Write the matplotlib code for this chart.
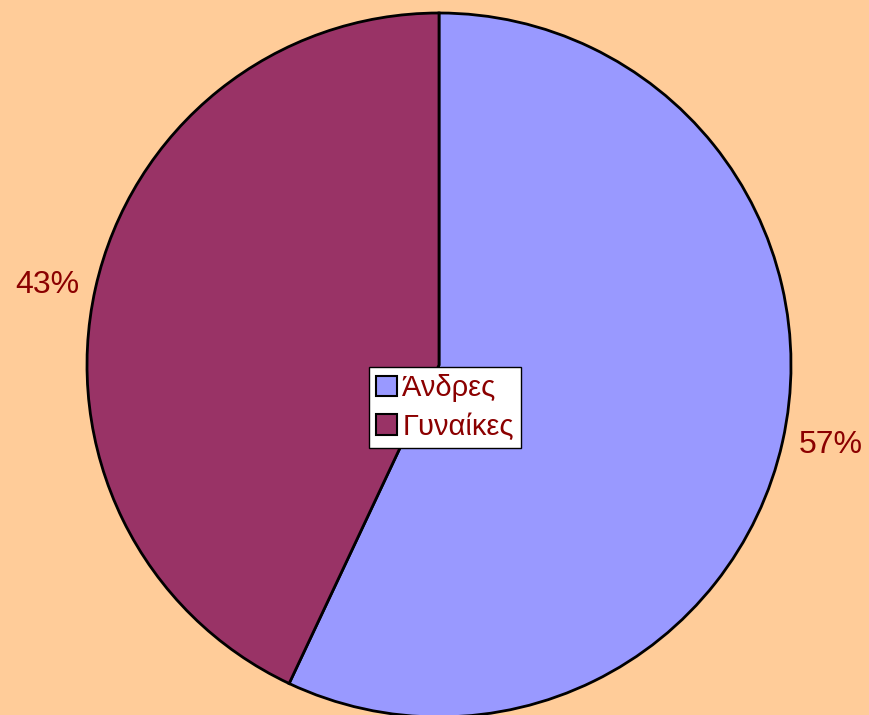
# Pie chart: share of men / women
import numpy as np
import matplotlib
matplotlib.use("Agg")
import matplotlib.pyplot as plt

plt.rcParams.update({
    "font.family": ["Liberation Sans", "DejaVu Sans"],
})

# Data
categories = ["Άνδρες", "Γυναίκες"]
shares = [57, 43]
colors = ["#9999FF", "#993366"]

W, H = 869, 715
cx, cy, R = 439, H - 365, 352

fig = plt.figure(figsize=(W / 100, H / 100), dpi=100)
fig.patch.set_facecolor("#FFCC99")
ax = fig.add_axes([0, 0, 1, 1])
ax.set_facecolor("#FFCC99")

wedges, texts, autotexts = ax.pie(
    shares,
    colors=colors,
    startangle=90,
    counterclock=False,
    center=(cx, cy),
    radius=R,
    autopct="%1.0f%%",
    pctdistance=1.135,
    wedgeprops=dict(edgecolor="black", linewidth=2),
    textprops=dict(color="#8B0000", fontsize=23),
    frame=True,
)
# nudge the percentage labels ~1 degree counter-clockwise
rot = np.deg2rad(1.0)
for t in autotexts:
    x, y = t.get_position()
    dx, dy = x - cx, y - cy
    t.set_position((cx + dx * np.cos(rot) - dy * np.sin(rot),
                    cy + dx * np.sin(rot) + dy * np.cos(rot)))

ax.set_xlim(0, W)
ax.set_ylim(0, H)
ax.set_aspect("equal")
ax.axis("off")

leg = fig.legend(
    wedges, categories,
    loc="center",
    bbox_to_anchor=(445 / W, 1 - 407.5 / H),
    fontsize=21,
    frameon=True,
    fancybox=False,
    edgecolor="black",
    framealpha=1,
    handlelength=0.7,
    handleheight=0.7,
    handletextpad=0.2,
    borderpad=0.25,
    labelspacing=0.35,
    borderaxespad=0,
)
leg.get_frame().set_linewidth(1.0)
for t in leg.get_texts():
    t.set_color("#8B0000")
for h in leg.legend_handles:
    h.set_linewidth(1.5)

fig.savefig("out.png", dpi=100, facecolor=fig.get_facecolor())
